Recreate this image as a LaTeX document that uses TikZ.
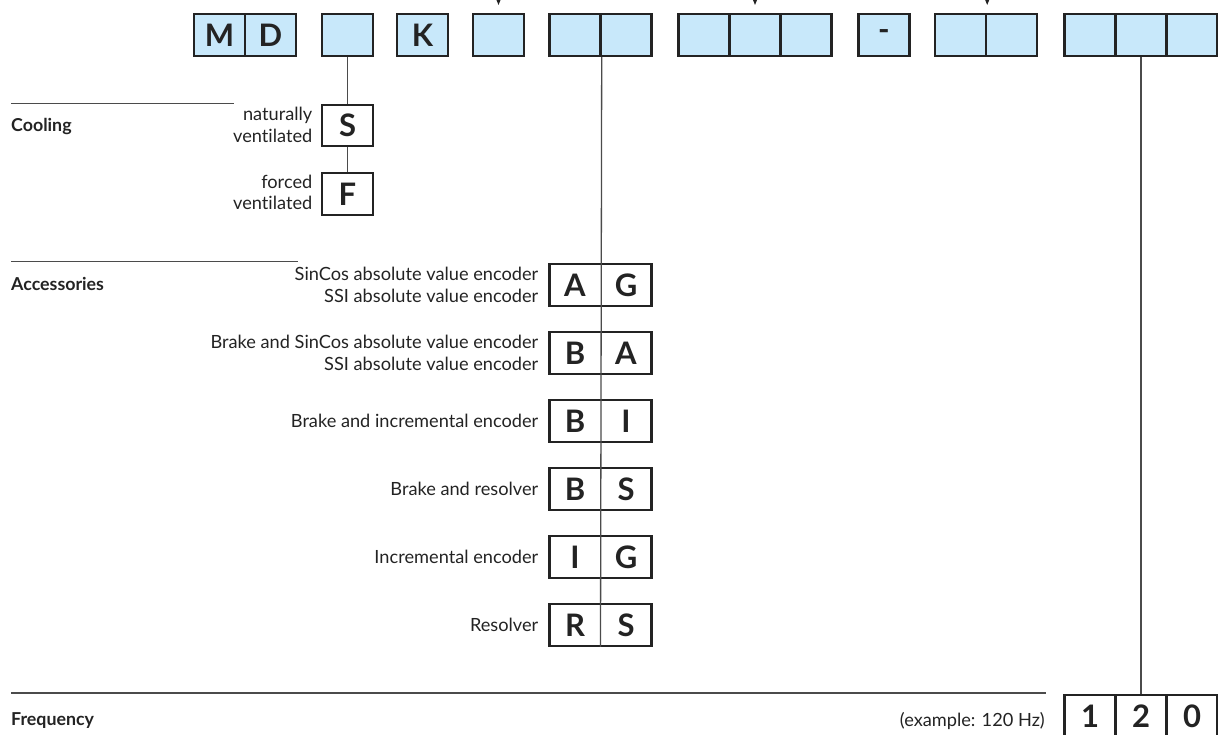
\documentclass[tikz,border=0pt]{standalone}
\usepackage{fontspec}
\setmainfont{Lato}[RawFeature=-liga]
\usetikzlibrary{arrows.meta}
\definecolor{cellblue}{RGB}{200,232,250}
\definecolor{edgecol}{RGB}{35,35,35}
\definecolor{rulecol}{RGB}{75,75,75}
\begin{document}
\begin{tikzpicture}[x=1pt,y=-1pt,
  cell/.style={draw=edgecol, line width=2.4pt, minimum width=51pt, minimum height=41.5pt, inner sep=0pt},
  letter/.style={inner sep=0pt, font=\fontsize{31}{32}\selectfont\bfseries, text=edgecol},
  topcell/.style={cell, fill=cellblue, font=\fontsize{31}{32}\selectfont\bfseries, text=edgecol},
  optcell/.style={cell, fill=white, font=\fontsize{31}{32}\selectfont\bfseries, text=edgecol},
  pairbox/.style={cell, fill=white, minimum width=102pt},
  conn/.style={draw=rulecol, line width=1.3pt},
  hrule/.style={draw=rulecol, line width=1.4pt},
  lbl/.style={font=\fontsize{18.2}{21.7}\selectfont, align=right, anchor=east, inner sep=0pt, text=edgecol},
  sect/.style={font=\fontsize{17.8}{20}\selectfont\bfseries, anchor=base west, inner sep=0pt, text=edgecol},
  tip/.style={-{Triangle[length=6pt,width=4.5pt]}, draw=edgecol, line width=1pt}
]
\useasboundingbox (0,0) rectangle (1218,734);

% ---- top row ----
\node[topcell] (t1) at (219.5,35) {M};
\node[topcell] (t2) at (270.5,35) {D};
\node[topcell] (t3) at (347.5,35) {};
\node[topcell] (t4) at (422.5,35) {K};
\node[topcell] (t5) at (498.5,35) {};
\node[topcell] (t6) at (575,35) {};
\node[topcell] (t7) at (626,35) {};
\node[topcell] (t8) at (704,35) {};
\node[topcell] (t9) at (755,35) {};
\node[topcell] (t10) at (806,35) {};
\node[topcell] (t11) at (884,35) {-};
\node[topcell] (t12) at (960.5,35) {};
\node[topcell] (t13) at (1011.5,35) {};
\node[topcell] (t14) at (1090,35) {};
\node[topcell] (t15) at (1141,35) {};
\node[topcell] (t16) at (1192,35) {};

% arrows from above
\foreach \n/\s in {t5/north, t9/north, t12/north east}{
  \coordinate (\n-from) at ([yshift=22pt]\n.\s);
  \coordinate (\n-to) at ([yshift=8pt]\n.\s);
  \draw[tip] (\n-from) -- (\n-to);
}

% ---- section rules and titles ----
\draw[hrule] (11,103.3) -- (234,103.3);
\node[sect] (cool) at (11,131.7) {Cooling};
\draw[hrule] (11,261.7) -- (298,261.7);
\node[sect] (acc) at (11,290) {Accessories};
\draw[hrule] (11,693) -- (1046,693);
\node[sect] (freq) at (11,725) {Frequency};

% ---- cooling ----
\node[optcell] (cs) at (347.5,125.5) {S};
\node[optcell] (cf) at (347.5,194) {F};
\node[lbl] (csl) at (312.5,125) {naturally\\ventilated};
\node[lbl] (cfl) at (312.5,192.5) {forced\\ventilated};
\draw[conn] (t3.south) -- (cs.north);
\draw[conn] (cs.south) -- (cf.north);

% ---- accessories ----
\foreach \nm/\y/\a/\b in {ag/285/A/G, ba/353/B/A, bi/421/B/I, bs/489/B/S, ig/557/I/G, rs/625/R/S}{
  \node[pairbox] (\nm) at (600.5,\y) {};
  \node[letter] (\nm-l) at (575,\y) {\a};
  \node[letter] (\nm-r) at (626,\y) {\b};
}
\node[lbl] (agl) at (538.5,285) {SinCos absolute value encoder\\SSI absolute value encoder};
\node[lbl] (bal) at (538.5,353) {Brake and SinCos absolute value encoder\\SSI absolute value encoder};
\node[lbl] (bil) at (538.5,421) {Brake and incremental encoder};
\node[lbl] (bsl) at (538.5,489) {Brake and resolver};
\node[lbl] (igl) at (538.5,557) {Incremental encoder};
\node[lbl] (rsl) at (538.5,625) {Resolver};
\draw[conn] (t6.south east) -- (rs.south);

% ---- frequency ----
\node[optcell] (q1) at (1090,716) {1};
\node[optcell] (q2) at (1141,716) {2};
\node[optcell] (q3) at (1192,716) {0};
\node[lbl, anchor=base east] (ex) at (1045,726) {(example: 120 Hz)};
\draw[conn] (t15.south) -- (q2.north);
\end{tikzpicture}
\end{document}
